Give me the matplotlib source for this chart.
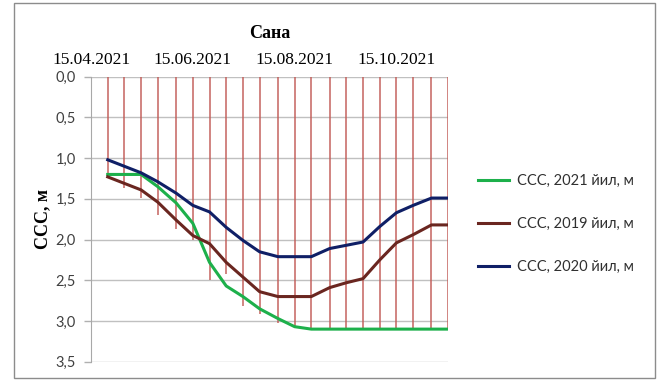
import matplotlib.pyplot as plt
import matplotlib.dates as mdates
from matplotlib.patches import Rectangle
from datetime import datetime
import numpy as np

# measurement dates (5th, 15th, 25th of each month)
dates_str = ['15.04.2021', '25.04.2021', '05.05.2021', '15.05.2021', '25.05.2021',
             '05.06.2021', '15.06.2021', '25.06.2021', '05.07.2021', '15.07.2021',
             '25.07.2021', '05.08.2021', '15.08.2021', '25.08.2021', '05.09.2021',
             '15.09.2021', '25.09.2021', '05.10.2021', '15.10.2021', '25.10.2021',
             '05.11.2021', '15.11.2021']

ccc_2021 = [np.nan, 1.20, 1.20, 1.20, 1.35, 1.55, 1.80, 2.28, 2.57, 2.70, 2.85,
            2.97, 3.07, 3.10, 3.10, 3.10, 3.10, 3.10, 3.10, 3.10, 3.10, 3.10]
ccc_2019 = [np.nan, 1.23, 1.31, 1.39, 1.54, 1.76, 1.95, 2.05, 2.28, 2.46, 2.64,
            2.70, 2.70, 2.70, 2.59, 2.53, 2.48, 2.25, 2.04, 1.94, 1.82, 1.82]
ccc_2020 = [np.nan, 1.02, 1.10, 1.18, 1.29, 1.43, 1.58, 1.66, 1.85, 2.01, 2.15,
            2.21, 2.21, 2.21, 2.11, 2.07, 2.03, 1.84, 1.67, 1.58, 1.49, 1.49]
# vertical drop lines (second 2021 series)
drop_2021 = [1.19, 1.20, 1.37, 1.49, 1.70, 1.87, 2.01, 2.50, 2.42, 2.81, 2.91,
             3.02, 3.09, 3.10, 3.10, 3.10, 3.10, 3.10, 3.10, 3.10, 3.10, 3.10]

labels = ['ССС, 2021 йил, м', 'ССС, 2019 йил, м', 'ССС, 2020 йил, м']
colors = ['#1db04b', '#6a2620', '#0f1f66']
x_ticks_str = ['15.04.2021', '15.06.2021', '15.08.2021', '15.10.2021']
y_ticks = [0.0, 0.5, 1.0, 1.5, 2.0, 2.5, 3.0, 3.5]

dates = [datetime.strptime(d, '%d.%m.%Y') for d in dates_str]
x_ticks = [datetime.strptime(d, '%d.%m.%Y') for d in x_ticks_str]

fig = plt.figure(figsize=(6.62, 3.8), dpi=100)
fig.patches.append(Rectangle((0.021, 0.005), 0.968, 0.987, transform=fig.transFigure,
                             fill=False, edgecolor='#8c8c8c', linewidth=1.0))
ax = fig.add_axes([0.1375, 0.0482, 0.5395, 0.7498])

ax.vlines(dates, 0, drop_2021, colors='#c25a56', alpha=0.8, linewidth=1.3, zorder=2)

for vals, lab, c in zip([ccc_2021, ccc_2019, ccc_2020], labels, colors):
    ax.plot(dates, vals, color=c, linewidth=2.2, label=lab, zorder=3)

ax.set_xlim(dates[0], dates[-1])
ax.set_ylim(3.5, 0)
ax.set_yticks(y_ticks)
ax.set_yticklabels([('%.1f' % v).replace('.', ',') for v in y_ticks],
                   fontfamily='Lato', fontsize=10.5, color='#404040')
ax.tick_params(axis='y', length=5, width=1, color='#b0b0b0', pad=6)
ax.grid(axis='y', color='#c0c0c0', linewidth=1.0, zorder=1)

ax.xaxis.tick_top()
ax.set_xticks(x_ticks)
ax.set_xticklabels(x_ticks_str, fontfamily='Liberation Serif', fontsize=12.5, color='black')
ax.tick_params(axis='x', length=0, pad=6)

for s in ['top', 'right', 'bottom']:
    ax.spines[s].set_visible(False)
ax.spines['left'].set_color('#a8a8a8')

ax.set_ylabel('ССС, м', fontfamily='Liberation Serif', fontweight='bold', fontsize=13, labelpad=3)
fig.text(270 / 662, 1 - 33 / 380, 'Сана', fontfamily='Liberation Serif', fontweight='bold',
         fontsize=13, ha='center', va='center')

leg = ax.legend(loc='upper left', bbox_to_anchor=(478 / 662, 1 - 174 / 380),
                bbox_transform=fig.transFigure, frameon=False, handlelength=2.1,
                handletextpad=0.6, borderpad=0, borderaxespad=0,
                labelspacing=2.0, prop={'family': 'Lato', 'size': 10.5})
for t in leg.get_texts():
    t.set_color('#303030')

fig.savefig('out.png', dpi=100)
